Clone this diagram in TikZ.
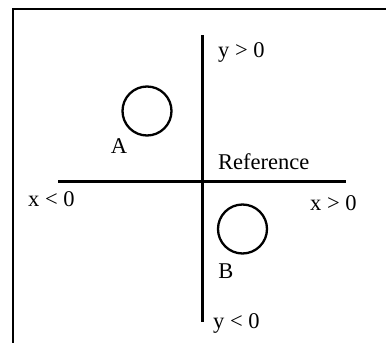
\documentclass[tikz,border=0pt]{standalone}
\usepackage{fontspec}
\setmainfont{Liberation Serif}
\begin{document}
\begin{tikzpicture}[x=1pt,y=-1pt,
  axis/.style={line width=3pt},
  frame/.style={line width=2.6pt},
  body/.style={circle,draw,line width=2.3pt,minimum size=49pt,inner sep=0pt},
  lbl/.style={font=\fontsize{22.5}{26}\selectfont,inner sep=0pt}]
\useasboundingbox (0,0) rectangle (386,343);
% frame (top and left edges visible)
\coordinate (fbl) at (13,345);
\coordinate (ftl) at (13,9);
\coordinate (ftr) at (388,9);
\draw[frame] (fbl) -- (ftl) -- (ftr);
% axes
\coordinate (yt) at (202,35);
\coordinate (yb) at (202,322);
\coordinate (xl) at (58,181);
\coordinate (xr) at (346,181);
\draw[axis] (yt) -- (yb);
\draw[axis] (xl) -- (xr);
% bodies
\node[body] (A) at (147,111) {};
\node[body] (B) at (242.5,229) {};
\node[lbl] (la) at (119,146) {A};
\node[lbl] (lb) at (226,271) {B};
% labels
\node[lbl,anchor=west] (yp) at (218,52) {y > 0};
\node[lbl,anchor=west] (ref) at (218,162) {Reference};
\node[lbl,anchor=west] (xn) at (28,199) {x < 0};
\node[lbl,anchor=west] (xp) at (310,203) {x > 0};
\node[lbl,anchor=west] (yn) at (213,323) {y < 0};
\end{tikzpicture}
\end{document}
